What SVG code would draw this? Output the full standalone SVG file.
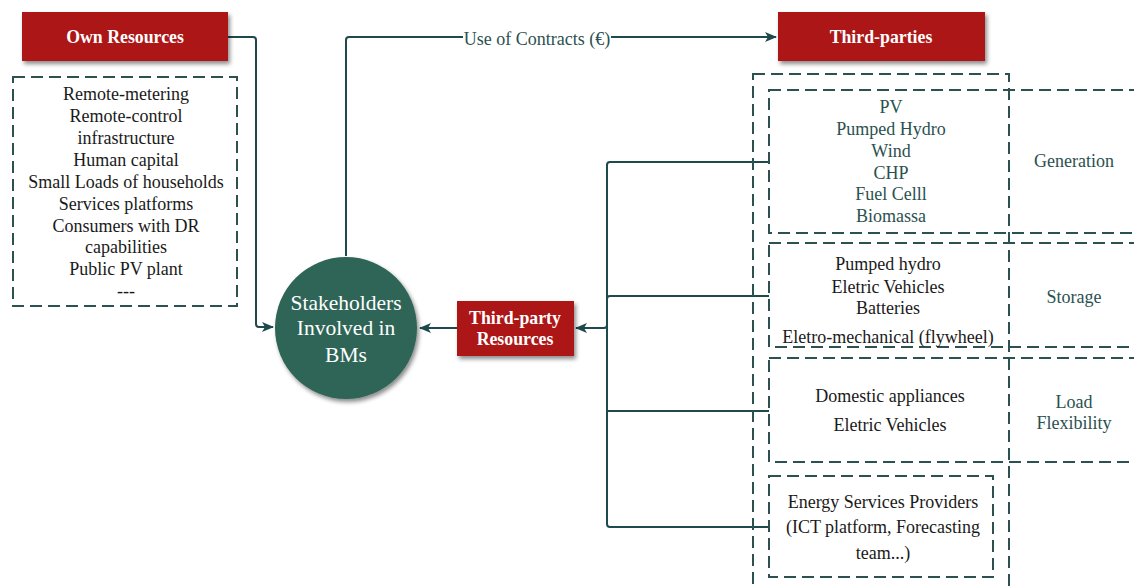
<svg xmlns="http://www.w3.org/2000/svg" width="1134" height="588" viewBox="0 0 1134 588">
<style>
.red{fill:#AD1519;}
.hdr{font-family:"Liberation Serif","Times New Roman",serif;font-weight:bold;font-size:17.8px;fill:#fff;text-anchor:middle;}
.t{font-family:"Liberation Serif","Times New Roman",serif;font-size:18px;fill:#1a1a1a;text-anchor:middle;}
.tl{font-family:"Liberation Serif","Times New Roman",serif;font-size:18px;fill:#2B5150;text-anchor:middle;}
.dash{fill:none;stroke:#2B5150;stroke-width:2;stroke-dasharray:12 6;}
.con{fill:none;stroke:#1F4A4D;stroke-width:2;}
.ct{font-family:"Liberation Serif","Times New Roman",serif;font-size:21.5px;fill:#fff;text-anchor:middle;}
</style>
<defs>
<filter id="sh" x="-20%" y="-20%" width="150%" height="160%">
<feDropShadow dx="2" dy="3" stdDeviation="2" flood-color="#000" flood-opacity="0.45"/>
</filter>
<marker id="arr" markerWidth="12" markerHeight="10" refX="11" refY="5" orient="auto" markerUnits="userSpaceOnUse">
<path d="M0,0 L12,5 L0,10 L3,5 Z" fill="#1F4A4D"/>
</marker>
</defs>

<g id="connectors">
<path class="con" d="M228,37 H253 Q256,37 256,40 V324 Q256,327 259,327 H273" marker-end="url(#arr)"/>
<path class="con" d="M346,256 V40 Q346,37 349,37 H463"/>
<path class="con" d="M611,37 H776" marker-end="url(#arr)"/>
<text class="tl" x="537" y="45">Use of Contracts (€)</text>
<path class="con" d="M457,328 H420" marker-end="url(#arr)"/>
<path class="con" d="M769,162 H610 Q607,162 607,165 V325 Q607,328 604,328 H576" marker-end="url(#arr)"/>
<path class="con" d="M769,296 H610 Q607,296 607,299 V524 Q607,527 610,527 H769"/>
<path class="con" d="M607,411 H769"/>
</g>

<g id="own-resources">
<rect class="red" x="22" y="12" width="206" height="49" filter="url(#sh)"/>
<text class="hdr" x="125" y="43">Own Resources</text>
</g>

<g id="own-resources-list">
<rect class="dash" x="13" y="77" width="224" height="229"/>
<text class="t" x="126" y="100">Remote-metering</text>
<text class="t" x="126" y="122">Remote-control</text>
<text class="t" x="126" y="144">infrastructure</text>
<text class="t" x="126" y="166">Human capital</text>
<text class="t" x="126" y="188">Small Loads of households</text>
<text class="t" x="126" y="210">Services platforms</text>
<text class="t" x="126" y="232">Consumers with DR</text>
<text class="t" x="126" y="253">capabilities</text>
<text class="t" x="126" y="275">Public PV plant</text>
<text class="t" x="126" y="297">---</text>
</g>

<g id="stakeholders">
<circle cx="346" cy="328" r="71" fill="#2E6556" filter="url(#sh)"/>
<text class="ct" x="346" y="310">Stakeholders</text>
<text class="ct" x="346" y="335">Involved in</text>
<text class="ct" x="346" y="362">BMs</text>
</g>

<g id="third-parties">
<rect class="red" x="778" y="12" width="207" height="49" filter="url(#sh)"/>
<text class="hdr" x="881" y="43">Third-parties</text>
</g>

<g id="third-party-resources">
<rect class="red" x="457" y="301" width="117" height="55" filter="url(#sh)"/>
<text class="hdr" x="515" y="324">Third-party</text>
<text class="hdr" x="515" y="345">Resources</text>
</g>

<g id="third-party-frame">
<rect class="dash" x="753" y="74" width="256" height="530"/>
</g>

<g id="generation">
<rect class="dash" x="769" y="90" width="380" height="143"/>
<text class="tl" x="891" y="113">PV</text>
<text class="tl" x="891" y="135">Pumped Hydro</text>
<text class="tl" x="891" y="157">Wind</text>
<text class="tl" x="891" y="179">CHP</text>
<text class="tl" x="891" y="200">Fuel Celll</text>
<text class="tl" x="891" y="222">Biomassa</text>
<text class="tl" x="1074" y="167">Generation</text>
</g>

<g id="storage">
<rect class="dash" x="769" y="243" width="380" height="104"/>
<text class="t" x="888" y="270">Pumped hydro</text>
<text class="t" x="888" y="293">Eletric Vehicles</text>
<text class="t" x="888" y="314">Batteries</text>
<text class="t" x="888" y="343">Eletro-mechanical (flywheel)</text>
<text class="tl" x="1074" y="303">Storage</text>
</g>

<g id="load-flexibility">
<rect class="dash" x="769" y="358" width="380" height="104"/>
<text class="t" x="890" y="402">Domestic appliances</text>
<text class="t" x="890" y="431">Eletric Vehicles</text>
<text class="tl" x="1074" y="408">Load</text>
<text class="tl" x="1074" y="429">Flexibility</text>
</g>

<g id="energy-services">
<rect class="dash" x="769" y="476" width="224" height="101"/>
<text class="t" x="883" y="508">Energy Services Providers</text>
<text class="t" x="883" y="533">(ICT platform, Forecasting</text>
<text class="t" x="883" y="559">team...)</text>
</g>
</svg>
